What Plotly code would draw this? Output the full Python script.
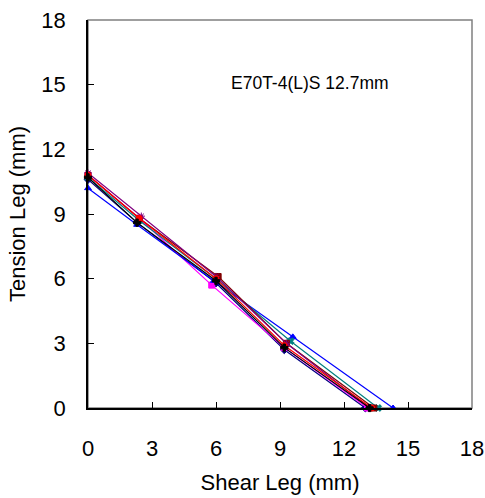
import plotly.graph_objects as go

# Data (Shear Leg x, Tension Leg y) per specimen
series_names = ["S1", "S2", "S3", "S4", "S5", "S6", "S7", "S8"]
shear_legs = [
    [0.0, 2.3, 6.0, 9.2, 13.0],
    [0.0, 2.4, 5.8, 9.2, 13.1],
    [0.0, 2.3, 5.9, 9.6, 14.3],
    [0.0, 2.4, 6.0, 9.5, 13.6],
    [0.0, 2.4, 6.1, 9.3, 13.4],
    [0.0, 2.5, 6.0, 9.3, 13.2],
    [0.0, 2.4, 6.0, 9.2, 13.3],
    [0.0, 2.3, 6.0, 9.2, 13.2],
]
tension_legs = [
    [10.6, 8.6, 5.8, 2.7, 0.0],
    [10.8, 8.8, 5.7, 2.8, 0.0],
    [10.2, 8.5, 5.9, 3.3, 0.0],
    [10.7, 8.7, 6.0, 3.1, 0.0],
    [10.8, 8.8, 6.1, 3.0, 0.0],
    [10.9, 8.9, 6.1, 3.0, 0.0],
    [10.8, 8.8, 6.0, 2.9, 0.0],
    [10.7, 8.6, 5.9, 2.8, 0.0],
]
colors = ["#000080", "#FF00FF", "#0000FF", "#008080", "#800000", "#800080", "#FF0000", "#000000"]
symbols = ["diamond", "square", "triangle-up", "x", "square", "asterisk", "circle", "cross"]

tick_vals = [0, 3, 6, 9, 12, 15, 18]
tick_text = ["0", "3", "6", "9", "12", "15", "18"]
annotation_text = "E70T-4(L)S 12.7mm"

FONT = "Arial, Liberation Sans, sans-serif"

fig = go.Figure()
for name, xs, ys, c, s in zip(series_names, shear_legs, tension_legs, colors, symbols):
    fig.add_trace(go.Scatter(
        x=xs, y=ys, mode="lines+markers", name=name,
        line=dict(color=c, width=1.2),
        marker=dict(color=c, symbol=s, size=6, line=dict(color=c, width=1)),
        showlegend=False, cliponaxis=False,
    ))

axis_common = dict(
    range=[0, 18], tickvals=tick_vals, ticktext=tick_text,
    showgrid=False, zeroline=False, showline=True, linecolor="black", linewidth=1.5,
    ticks="inside", ticklen=6, tickcolor="black", tickwidth=1,
    tickfont=dict(family=FONT, size=22, color="black"),
    mirror=False, automargin=False,
)

fig.update_layout(
    width=485, height=498,
    margin=dict(l=88, r=13, t=20, b=90),
    paper_bgcolor="white", plot_bgcolor="white",
    xaxis=dict(**axis_common, ticklabelstandoff=20,
               title=dict(text="Shear Leg (mm)", standoff=14,
                          font=dict(family=FONT, size=22, color="black"))),
    yaxis=dict(**axis_common, ticklabelstandoff=16,
               title=dict(text="Tension Leg (mm)", standoff=10,
                          font=dict(family=FONT, size=22, color="black"))),
    shapes=[dict(type="rect", xref="paper", yref="paper", x0=0, y0=0, x1=1, y1=1,
                 line=dict(color="#808080", width=1.5), layer="below")],
    annotations=[dict(x=10.4, y=15.1, xref="x", yref="y", text=annotation_text,
                      showarrow=False,
                      font=dict(family=FONT, size=17.5, color="black"))],
)

fig.write_html("out.html", config={"displayModeBar": False},
               post_script="document.body.style.margin='0';")
